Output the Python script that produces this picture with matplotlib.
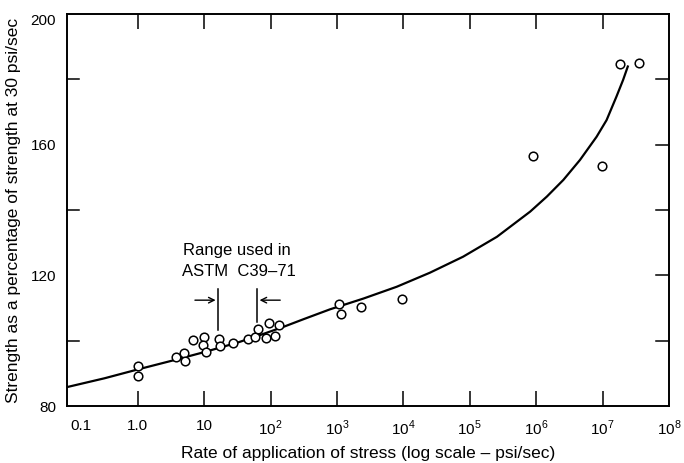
import matplotlib
matplotlib.use("Agg")
from matplotlib import pyplot as plt
from matplotlib.transforms import ScaledTranslation

plt.rcParams['font.family'] = ['Liberation Sans', 'DejaVu Sans']
plt.rcParams['mathtext.fontset'] = 'custom'
plt.rcParams['mathtext.rm'] = 'Liberation Sans'

# measured points (rate in psi/sec, strength in % of strength at 30 psi/sec)
rate = [1.0, 1.0, 3.8, 5.0, 5.1, 6.7, 10, 9.7, 10.7, 16.5, 17.4, 27.5, 45,
        58, 65, 85, 95, 116, 135, 1090, 1150, 2280, 9700, 9.1e5, 9.8e6,
        1.8e7, 3.6e7]
strength = [92.2, 89.2, 94.9, 96.1, 93.8, 100.2, 101.0, 98.6, 96.6, 100.4,
            98.3, 99.4, 100.4, 101.0, 103.5, 100.7, 105.3, 101.4, 104.7,
            111.2, 108.3, 110.4, 112.9, 156.6, 153.4, 184.6, 185.1]

# fitted curve
curve_rate = [0.086, 0.316, 1, 3.16, 10, 31.6, 69, 155, 316, 787, 2510,
              7940, 2.51e4, 7.94e4, 2.57e5, 8.13e5, 1.45e6, 2.57e6, 4.57e6,
              8.13e6, 1.15e7, 1.62e7, 2.04e7, 2.40e7]
curve_strength = [85.8, 88.5, 91.2, 93.8, 96.5, 99.4, 101.7, 104.2, 106.6,
                  109.6, 112.9, 116.5, 120.8, 125.7, 131.8, 139.5, 144.1,
                  149.2, 155.3, 162.4, 167.5, 174.7, 179.8, 183.9]

xticks = [0.1, 1, 10, 1e2, 1e3, 1e4, 1e5, 1e6, 1e7, 1e8]
xticklabels = ["0.1", "1.0", "10", r"$10^2$", r"$10^3$", r"$10^4$",
               r"$10^5$", r"$10^6$", r"$10^7$", r"$10^8$"]
yticks = [80, 120, 160, 200]
yminor = [100, 140, 180]

# ASTM C39-71 range limits
range_lo, range_hi = 16.4, 62

fig = plt.figure(figsize=(6.84, 4.63), dpi=100)
ax = fig.add_axes([0.098, 0.123, 0.880, 0.847])

ax.plot(curve_rate, curve_strength, color='black', lw=1.6,
        solid_joinstyle='round')
ax.plot(rate, strength, 'o', mfc='white', mec='black', ms=6.2, mew=1.1,
        linestyle='none')

ax.set_xscale('log')
ax.set_xlim(0.0861, 1e8)
ax.set_ylim(80, 200)

ax.set_xticks(xticks)
ax.set_xticklabels(xticklabels, fontsize=11)
ax.xaxis.set_minor_locator(matplotlib.ticker.NullLocator())
ax.set_yticks(yticks)
ax.set_yticklabels([str(v) for v in yticks], fontsize=11)
ax.tick_params(axis='x', direction='in', length=11, width=1.1, pad=9,
               top=True, bottom=True)
ax.tick_params(axis='y', direction='in', length=0, pad=8)
ticks = ax.xaxis.get_major_ticks()
for t in (ticks[0], ticks[-1]):
    t.tick1line.set_visible(False)
    t.tick2line.set_visible(False)
# nudge 0.1 label right and 200 label down like the original
ticks[0].label1.set_transform(ticks[0].label1.get_transform() +
                              ScaledTranslation(10 / 100, 0, fig.dpi_scale_trans))
ylab = ax.yaxis.get_major_ticks()[-1].label1
ylab.set_transform(ylab.get_transform() +
                   ScaledTranslation(0, -6 / 100, fig.dpi_scale_trans))

# short tick marks at 100/140/180 on the left, all 20s on the right
for v in yminor:
    ax.plot([0, 0.02], [v, v], color='black', lw=1.1,
            transform=ax.get_yaxis_transform(), clip_on=False)
for v in yminor + [120, 160]:
    ax.plot([0.979, 1], [v, v], color='black', lw=1.1,
            transform=ax.get_yaxis_transform(), clip_on=False)

for s in ax.spines.values():
    s.set_linewidth(1.4)

ax.set_xlabel("Rate of application of stress (log scale \u2013 psi/sec)",
              fontsize=12.5, labelpad=6)
ax.set_ylabel("Strength as a percentage of strength at 30 psi/sec",
              fontsize=12.5, labelpad=7)

# range annotation
ax.plot([range_lo, range_lo], [103.2, 115.8], color='black', lw=1.1)
ax.plot([range_hi, range_hi], [105.7, 115.8], color='black', lw=1.1)
ax.annotate("", xy=(range_lo, 112.4), xytext=(6.6, 112.4),
            arrowprops=dict(arrowstyle='->', color='black', lw=1.0))
ax.annotate("", xy=(range_hi, 112.4), xytext=(154, 112.4),
            arrowprops=dict(arrowstyle='->', color='black', lw=1.0))
ax.text(31, 127.7, "Range used in", ha='center', va='center', fontsize=12)
ax.text(33, 121.1, "ASTM  C39\u201371", ha='center', va='center', fontsize=12)

fig.savefig("out.png", dpi=100)
